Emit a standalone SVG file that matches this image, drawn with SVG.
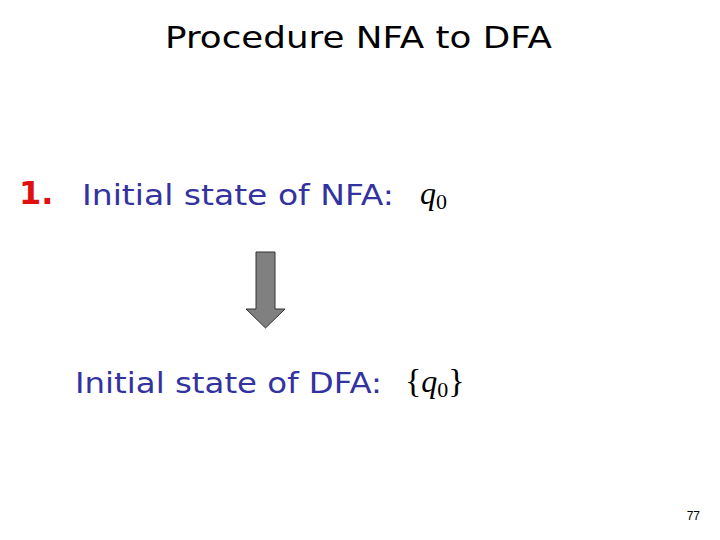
<svg xmlns="http://www.w3.org/2000/svg" width="720" height="540" viewBox="0 0 720 540">
<style>
.t{font-family:"DejaVu Sans",sans-serif;fill:#3333a0;font-size:28px}
.m{font-family:"Liberation Serif",serif;fill:#000}
</style>
<rect width="720" height="540" fill="#fff"/>
<text x="165" y="48" textLength="387" lengthAdjust="spacingAndGlyphs" font-family="DejaVu Sans,sans-serif" font-size="30" fill="#000">Procedure NFA to DFA</text>
<g id="step1">
<text x="19" y="204" font-family="DejaVu Sans,sans-serif" font-weight="bold" font-size="32" fill="#e01010">1.</text>
<text class="t" x="82" y="205" textLength="312" lengthAdjust="spacingAndGlyphs">Initial state of NFA:</text>
<text class="m" x="420" y="204" font-size="32" font-style="italic">q<tspan font-size="22" font-style="normal" dy="5">0</tspan></text>
</g>
<g id="arrow">
<path d="M256 252 H275 V309 H285 L265.5 328 L246 309 H256 Z" fill="#808080" stroke="#333" stroke-width="1"/>
</g>
<g id="step2">
<text class="t" x="75" y="393" textLength="307" lengthAdjust="spacingAndGlyphs">Initial state of DFA:</text>
<text class="m" x="405" y="392" font-size="34">{<tspan font-style="italic" font-size="32">q</tspan><tspan font-size="22" dy="5">0</tspan><tspan dy="-5">}</tspan></text>
</g>
<text x="700" y="520" text-anchor="end" font-family="Liberation Sans,sans-serif" font-size="12" fill="#000">77</text>
</svg>
